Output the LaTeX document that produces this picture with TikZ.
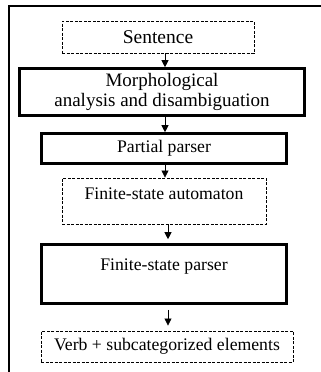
\documentclass[tikz,border=0pt]{standalone}
\usepackage{fontspec}
\setmainfont{Liberation Serif}
\usetikzlibrary{arrows.meta}

\tikzset{
  stage/.style={draw, line width=2.6pt, inner sep=0pt, align=center},
  datum/.style={draw, line width=0.9pt, dash pattern=on 3pt off 1.5pt, inner sep=0pt, align=center},
  flow/.style={line width=0.8pt, -{Triangle[length=7pt,width=7pt]}}
}

\begin{document}
\begin{tikzpicture}[x=1pt,y=-1pt]
\clip (0,0) rectangle (321,372);
\useasboundingbox (0,0) rectangle (321,372);
\fontsize{17.7}{20}\selectfont

% outer frame
\draw[line width=2.6pt] (9,390) |- (340,6);

\coordinate (axis) at (165,0);

\node[datum, minimum width=192pt, minimum height=32pt, font=\fontsize{19.5}{21}\selectfont] (sentence) at (158,37) {Sentence};
\node[stage, minimum width=285pt, minimum height=47pt, font=\fontsize{19}{20.5}\selectfont] (morph) at (162,92) {Morphological\\analysis and disambiguation};
\node[stage, minimum width=245pt, minimum height=30pt] (partial) at (164,148.5) {Partial parser};
\node[datum, minimum width=204pt, minimum height=46pt, text depth=14pt] (fsa) at (164,201) {Finite-state automaton};
\node[stage, minimum width=245pt, minimum height=59pt, text depth=18pt] (fsp) at (164,274) {Finite-state parser};
\node[datum, minimum width=252pt, minimum height=31pt] (verb) at (167,346.5) {Verb + subcategorized elements};

\draw[flow] (sentence.south -| axis) -- (morph.north -| axis);
\draw[flow] (morph.south -| axis) -- (partial.north -| axis);
\draw[flow] (partial.south -| axis) -- (fsa.north -| axis);
\draw[flow, shorten <=1pt, shorten >=4pt] ([xshift=3pt]fsa.south -| axis) -- ([xshift=3pt]fsp.north -| axis);
\draw[flow, shorten <=5pt, shorten >=5pt] ([xshift=3pt]fsp.south -| axis) -- ([xshift=3pt]verb.north -| axis);
\end{tikzpicture}
\end{document}
